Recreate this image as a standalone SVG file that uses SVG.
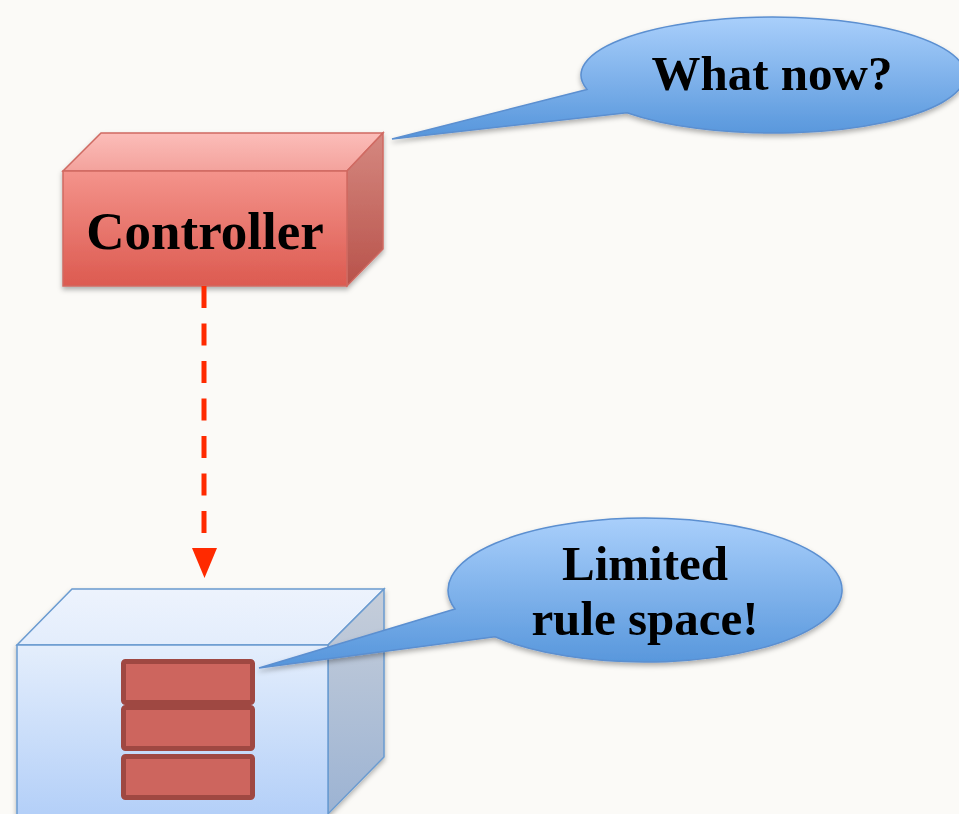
<svg xmlns="http://www.w3.org/2000/svg" width="959" height="814" viewBox="0 0 959 814">
<defs>
<linearGradient id="rFront" x1="0" y1="0" x2="0" y2="1"><stop offset="0" stop-color="#f4938b"/><stop offset="1" stop-color="#dc5a50"/></linearGradient>
<linearGradient id="rTop" x1="0" y1="0" x2="0" y2="1"><stop offset="0" stop-color="#fcbdb9"/><stop offset="1" stop-color="#f3a29c"/></linearGradient>
<linearGradient id="rSide" x1="0" y1="0" x2="0" y2="1"><stop offset="0" stop-color="#d58880"/><stop offset="1" stop-color="#b8524a"/></linearGradient>
<linearGradient id="bFront" x1="0" y1="0" x2="0" y2="1"><stop offset="0" stop-color="#e4eefc"/><stop offset="1" stop-color="#b3cff8"/></linearGradient>
<linearGradient id="bTop" x1="0" y1="0" x2="0" y2="1"><stop offset="0" stop-color="#edf3fd"/><stop offset="1" stop-color="#e3edfc"/></linearGradient>
<linearGradient id="bSide" x1="0" y1="0" x2="0" y2="1"><stop offset="0" stop-color="#c6ceda"/><stop offset="1" stop-color="#9cb3d3"/></linearGradient>
<linearGradient id="bub" x1="0" y1="0" x2="0" y2="1"><stop offset="0" stop-color="#a9cffb"/><stop offset="1" stop-color="#5595db"/></linearGradient>
<filter id="sh" x="-10%" y="-10%" width="125%" height="130%"><feDropShadow dx="0" dy="3" stdDeviation="2.5" flood-color="#000" flood-opacity="0.3"/></filter>
</defs>
<style>
.lbl{font-family:"Liberation Serif","Times New Roman",serif;font-weight:bold;fill:#000;text-anchor:middle}
.bubble{fill:url(#bub);stroke:#5b8fd0;stroke-width:1.5}
.rule{fill:#cd655e;stroke:#9f4842;stroke-width:5}
</style>
<rect width="959" height="814" fill="#fbfaf7"/>

<g id="controller" filter="url(#sh)">
<polygon points="63,171 101,133 383,133 347,171" fill="url(#rTop)" stroke="#cf6a62" stroke-width="1.5"/>
<polygon points="347,171 383,133 383,249 347,286" fill="url(#rSide)" stroke="#cf6a62" stroke-width="1.5"/>
<rect x="63" y="171" width="284" height="115" fill="url(#rFront)" stroke="#cf6a62" stroke-width="1.5"/>
<text class="lbl" x="205" y="249" font-size="53">Controller</text>
</g>

<g id="switch">
<g filter="url(#sh)">
<polygon points="17,645 72,589 384,589 328,645" fill="url(#bTop)" stroke="#6a9bd0" stroke-width="1.5"/>
<polygon points="328,645 384,589 384,757 328,814" fill="url(#bSide)" stroke="#6a9bd0" stroke-width="1.5"/>
<rect x="17" y="645" width="311" height="172" fill="url(#bFront)" stroke="#6a9bd0" stroke-width="1.5"/>
</g>
<g id="rules">
<rect class="rule" x="123.5" y="661.5" width="129" height="41" rx="2"/>
<rect class="rule" x="123.5" y="707.5" width="129" height="41" rx="2"/>
<rect class="rule" x="123.5" y="756.5" width="129" height="41" rx="2"/>
</g>
</g>

<g id="bubble-what" filter="url(#sh)">
<path class="bubble" d="M587,89.4 L392,139 L627,112.7 A192,58 0 1 0 587,89.4 Z"/>
<text class="lbl" x="772" y="90" font-size="49">What now?</text>
</g>

<g id="bubble-limited" filter="url(#sh)">
<path class="bubble" d="M455,609 L259,668 L495,636.7 A197,72 0 1 0 455,609 Z"/>
<text class="lbl" x="645" y="580" font-size="49">Limited</text>
<text class="lbl" x="645" y="635" font-size="49">rule space!</text>
</g>

<g id="connectors">
<line x1="204" y1="286" x2="204" y2="548" stroke="#ff2a00" stroke-width="5" stroke-dasharray="22,15.5"/>
<path d="M192,548 L217,548 L204.5,578 Z" fill="#ff2a00"/>
</g>
</svg>
